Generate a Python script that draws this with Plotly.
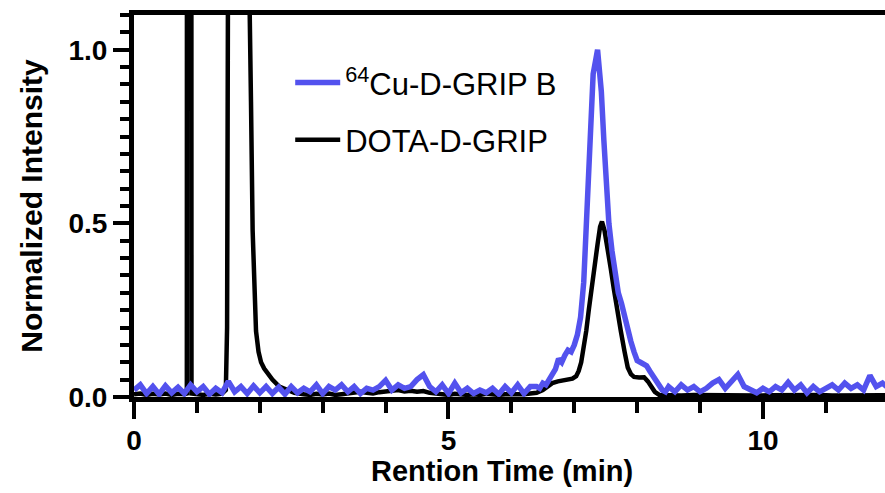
import plotly.graph_objects as go

# ---------------- data ----------------
blue_name = "<sup>64</sup>Cu-D-GRIP B"
black_name = "DOTA-D-GRIP"

blue_t = [0.0, 0.1, 0.2, 0.3, 0.4, 0.5, 0.6, 0.7, 0.8, 0.9,
          1.0, 1.1, 1.2, 1.3, 1.4, 1.5, 1.6, 1.7, 1.8, 1.9,
          2.0, 2.1, 2.2, 2.3, 2.4, 2.5, 2.6, 2.7, 2.8, 2.9,
          3.0, 3.1, 3.2, 3.3, 3.4, 3.5, 3.6, 3.7, 3.8, 3.9,
          4.0, 4.1, 4.2, 4.3, 4.4, 4.5, 4.6, 4.7, 4.8, 4.9,
          5.0, 5.1, 5.2, 5.3, 5.4, 5.5, 5.6, 5.7, 5.8, 5.9,
          6.0, 6.1, 6.2, 6.3, 6.4, 6.45, 6.5, 6.55, 6.6, 6.65,
          6.7, 6.75, 6.8, 6.85, 6.9, 6.95, 7.0, 7.05, 7.1, 7.15,
          7.2, 7.25, 7.3, 7.37, 7.43, 7.47, 7.5, 7.55, 7.6,
          7.65, 7.7, 7.75, 7.8, 7.85, 7.9, 7.95, 8.0, 8.05, 8.1,
          8.15, 8.2, 8.25, 8.3, 8.35, 8.4, 8.45, 8.5, 8.6, 8.7,
          8.8, 8.9, 9.0, 9.1, 9.2, 9.3, 9.4, 9.5, 9.6, 9.7,
          9.8, 9.9, 10.0, 10.1, 10.2, 10.3, 10.4, 10.5, 10.6, 10.7,
          10.8, 10.9, 11.0, 11.1, 11.2, 11.3, 11.4, 11.5, 11.6, 11.7,
          11.8, 11.9, 12.0]
blue_y = [0.020, 0.035, 0.010, 0.030, 0.008, 0.032, 0.012, 0.028, 0.010, 0.035,
          0.015, 0.030, 0.008, 0.025, 0.012, 0.045, 0.015, 0.030, 0.010, 0.032,
          0.012, 0.030, 0.010, 0.028, 0.008, 0.030, 0.012, 0.025, 0.015, 0.035,
          0.010, 0.030, 0.020, 0.035, 0.015, 0.030, 0.010, 0.025, 0.020, 0.030,
          0.048, 0.020, 0.035, 0.025, 0.030, 0.050, 0.064, 0.030, 0.015, 0.035,
          0.010, 0.040, 0.012, 0.025, 0.010, 0.020, 0.012, 0.025, 0.008, 0.030,
          0.012, 0.035, 0.010, 0.030, 0.030, 0.025, 0.040, 0.035, 0.050, 0.065,
          0.080, 0.110, 0.100, 0.120, 0.135, 0.130, 0.150, 0.180, 0.230, 0.330,
          0.550, 0.780, 0.930, 1.000, 0.880, 0.740, 0.630, 0.500, 0.420,
          0.350, 0.300, 0.270, 0.230, 0.190, 0.160, 0.130, 0.105, 0.100, 0.095,
          0.090, 0.075, 0.060, 0.045, 0.030, 0.020, 0.015, 0.030, 0.015, 0.035,
          0.020, 0.030, 0.015, 0.025, 0.040, 0.050, 0.025, 0.045, 0.065, 0.030,
          0.020, 0.012, 0.025, 0.015, 0.030, 0.020, 0.042, 0.020, 0.035, 0.012,
          0.030, 0.015, 0.025, 0.035, 0.020, 0.040, 0.025, 0.035, 0.020, 0.062,
          0.030, 0.040, 0.025]

black_t = [0.0, 0.1, 0.2, 0.3, 0.4, 0.5, 0.6, 0.7, 0.8, 0.84,
           0.842, 0.912, 0.914, 1.0, 1.1, 1.2, 1.3, 1.4, 1.46, 1.48,
           1.49, 1.5, 1.8, 1.845, 1.86, 1.886, 1.91, 1.94, 1.98, 2.02,
           2.07, 2.12, 2.2, 2.31, 2.43, 2.55, 2.7, 2.8, 2.9, 3.0,
           3.1, 3.2, 3.3, 3.4, 3.5, 3.6, 3.7, 3.8, 3.9, 4.0,
           4.1, 4.2, 4.3, 4.4, 4.5, 4.6, 4.7, 4.8, 4.9, 5.0,
           5.1, 5.2, 5.3, 5.4, 5.5, 5.6, 5.7, 5.8, 5.9, 6.0,
           6.1, 6.2, 6.3, 6.4, 6.5, 6.58, 6.65, 6.74, 6.82, 6.9,
           6.97, 7.03, 7.07, 7.11, 7.15, 7.19, 7.23, 7.27, 7.32, 7.37,
           7.41, 7.44, 7.48, 7.53, 7.58, 7.63, 7.68, 7.74, 7.8, 7.85,
           7.9, 7.95, 8.03, 8.11, 8.17, 8.22, 8.28, 8.35, 8.5, 8.7,
           8.9, 9.1, 9.3, 9.5, 9.7, 9.9, 10.1, 10.3, 10.5, 10.7,
           10.9, 11.1, 11.3, 11.5, 11.7, 11.9, 12.0]
black_y = [0.008, 0.010, 0.006, 0.009, 0.007, 0.010, 0.006, 0.009, 0.008, 0.010,
           1.600, 1.600, 0.010, 0.008, 0.006, 0.009, 0.007, 0.010, 0.020, 0.200,
           1.200, 1.600, 1.600, 1.150, 0.850, 0.480, 0.310, 0.190, 0.130, 0.100,
           0.082, 0.070, 0.050, 0.030, 0.020, 0.012, 0.008, 0.006, 0.009, 0.007,
           0.010, 0.006, 0.008, 0.010, 0.012, 0.015, 0.012, 0.010, 0.014, 0.016,
           0.018, 0.020, 0.016, 0.018, 0.015, 0.017, 0.012, 0.010, 0.008, 0.006,
           0.009, 0.007, 0.006, 0.008, 0.006, 0.009, 0.007, 0.006, 0.008, 0.007,
           0.009, 0.008, 0.010, 0.012, 0.020, 0.030, 0.040, 0.045, 0.048, 0.050,
           0.053, 0.060, 0.075, 0.100, 0.140, 0.190, 0.250, 0.310, 0.380, 0.440,
           0.490, 0.505, 0.480, 0.430, 0.370, 0.310, 0.250, 0.190, 0.130, 0.085,
           0.066, 0.058, 0.056, 0.057, 0.045, 0.030, 0.015, 0.006, 0.005, 0.004,
           0.006, 0.005, 0.004, 0.006, 0.005, 0.004, 0.005, 0.006, 0.004, 0.005,
           0.006, 0.004, 0.005, 0.006, 0.004, 0.005, 0.005]

x_ticks = [0, 5, 10]
y_ticks = [0.0, 0.5, 1.0]
y_tick_labels = ["0.0", "0.5", "1.0"]
x_title = "Rention Time (min)"
y_title = "Normalized Intensity"

BLUE = "#5352EE"
FONT = "Arial, Liberation Sans, sans-serif"

fig = go.Figure()
fig.add_trace(go.Scatter(x=black_t, y=black_y, mode="lines", name=black_name,
                         line=dict(color="black", width=4.5), legendrank=2,
                         legendgroup="b"))
fig.add_trace(go.Scatter(x=blue_t, y=blue_y, mode="lines", name=blue_name,
                         line=dict(color=BLUE, width=5.5), legendrank=1,
                         legendgroup="a"))

axis_common = dict(showgrid=False, zeroline=False, showline=True, linecolor="black",
                   linewidth=5, ticks="outside", tickwidth=4, tickcolor="black",
                   automargin=False,
                   tickfont=dict(family=FONT, size=28, color="black", weight="bold"))

fig.update_xaxes(range=[0, 11.94], tickvals=x_ticks, ticklen=17, mirror=True,
                 ticklabelstandoff=-3,
                 minor=dict(dtick=1, tick0=0, ticks="outside", ticklen=11,
                            tickwidth=4, tickcolor="black"),
                 **axis_common)
fig.update_yaxes(range=[0, 1.1], tickvals=y_ticks, ticktext=y_tick_labels, ticklen=16,
                 minor=dict(dtick=0.05, tick0=0, ticks="outside", ticklen=9,
                            tickwidth=4, tickcolor="black"),
                 title=dict(text=y_title, standoff=18,
                            font=dict(family=FONT, size=30, color="black", weight="bold")),
                 **axis_common)

fig.add_annotation(text=x_title, xref="paper", yref="paper", x=0.49, y=-0.195,
                   xanchor="center", yanchor="middle", showarrow=False,
                   font=dict(family=FONT, size=29, color="black", weight="bold"))

fig.update_layout(
    width=885, height=493,
    margin=dict(l=134, r=0, t=15, b=96),
    plot_bgcolor="white", paper_bgcolor="white",
    showlegend=True,
    legend=dict(x=0.208, y=0.893, xanchor="left", yanchor="top",
                bgcolor="rgba(0,0,0,0)", tracegroupgap=14, itemwidth=45,
                font=dict(family=FONT, size=31, color="black")),
)

fig.write_html("out.html", config={"displayModeBar": False},
               post_script="document.body.style.margin='0';document.body.style.padding='0';")
